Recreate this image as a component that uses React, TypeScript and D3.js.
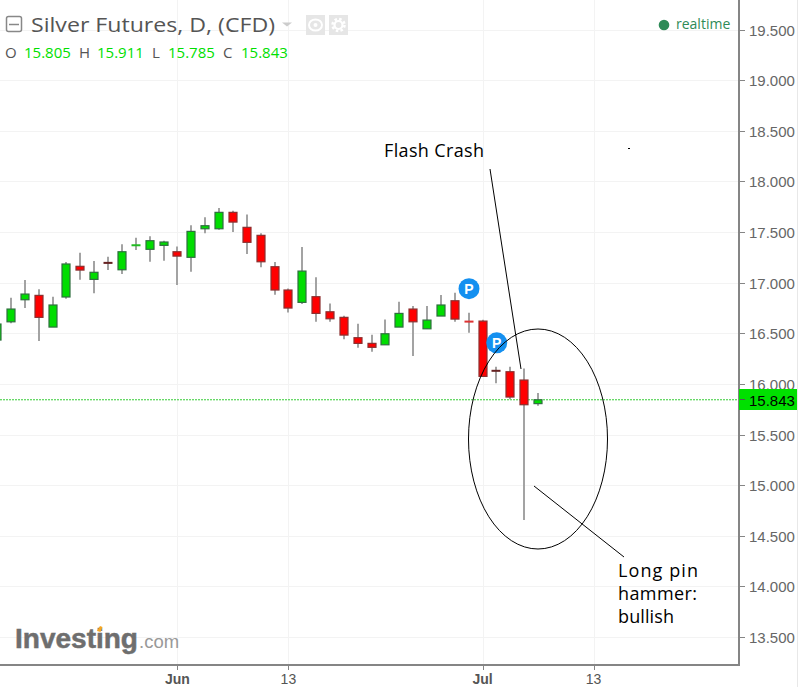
import React, { useEffect } from "react";
import * as d3 from "d3";

const opens = [16.433,16.613,16.831,16.874,16.561,16.858,17.161,17.032,17.200,17.127,17.368,17.329,17.368,17.305,17.250,17.532,17.532,17.694,17.546,17.467,17.157,16.927,16.805,16.861,16.712,16.657,16.456,16.400,16.386,16.561,16.739,16.544,16.670,16.821,16.620,16.620,16.134,16.120,16.038,15.805];
const highs = [16.650,16.851,17.025,16.934,16.861,17.203,17.295,17.213,17.256,17.378,17.443,17.457,17.414,17.358,17.566,17.645,17.737,17.710,17.674,17.487,17.203,16.943,17.351,17.052,16.795,16.673,16.594,16.485,16.637,16.811,16.769,16.769,16.877,16.901,16.702,16.633,16.169,16.169,16.153,15.911];
const lows = [16.383,16.598,16.749,16.423,16.561,16.841,17.028,16.894,17.124,17.085,17.322,17.206,17.216,16.976,17.108,17.487,17.522,17.500,17.282,17.151,16.880,16.706,16.788,16.613,16.613,16.440,16.357,16.317,16.386,16.561,16.275,16.544,16.670,16.613,16.505,16.074,16.005,15.847,14.655,15.785];
const closes = [16.591,16.739,16.887,16.657,16.779,17.184,17.124,17.102,17.180,17.305,17.374,17.414,17.401,17.262,17.506,17.562,17.694,17.598,17.398,17.206,16.927,16.749,17.114,16.696,16.643,16.482,16.400,16.361,16.495,16.696,16.613,16.630,16.779,16.640,16.611,16.074,16.117,15.870,15.794,15.843];
const priceTicks = [19.5,19,18.5,18,17.5,17,16.5,16,15.5,15,14.5,14,13.5];
const timeTicks = [{ i: 12, label: "Jun", bold: true }, { i: 20, label: "13", bold: false }, { i: 34, label: "Jul", bold: true }, { i: 42, label: "13", bold: false }];
const pMarkers = [{ i: 33, p: 16.94 }, { i: 35, p: 16.405 }];
const lastPrice = 15.843;
const legend = [["O","15.805"],["H","15.911"],["L","15.785"],["C","15.843"]];

const x = d3.scaleLinear().domain([-1, 39]).range([-2.87, 551.93]);
const y = d3.scaleLinear().domain([19.5, 13.5]).range([29.5, 637]);
const AX = 739, AY = 665;
const UP = "#00dd00", DOWN = "#ff0000";
const SANS = "'Liberation Sans', Arial, sans-serif";

export default function App() {
  useEffect(() => { document.body.style.margin = "0"; }, []);
  return (
    <svg width={800} height={687} style={{ position: "absolute", left: 0, top: 0, display: "block", background: "#fff" }} fontFamily={SANS}>
      {priceTicks.map(t => <line key={t} x1={0} x2={AX} y1={Math.round(y(t))+0.5} y2={Math.round(y(t))+0.5} stroke="#f3f3f3" />)}
      {timeTicks.map(t => <line key={t.i+t.label} x1={Math.round(x(t.i))+0.5} x2={Math.round(x(t.i))+0.5} y1={0} y2={AY} stroke="#f3f3f3" />)}
      <line x1={0} x2={AX} y1={y(lastPrice)} y2={y(lastPrice)} stroke="#33cc33" strokeDasharray="2 1" />

      {opens.map((o, i) => {
        const c = closes[i], up = c >= o;
        const cx = Math.round(x(i-1));
        const top = y(Math.max(o, c)), bot = y(Math.min(o, c));
        const thin = bot - top < 3;
        return (
          <g key={i}>
            <line x1={cx} x2={cx} y1={y(highs[i])} y2={y(lows[i])} stroke="#a3a3a3" strokeWidth={2} />
            {thin
              ? <rect x={cx-4.5} y={top-0.5} width={9} height={Math.max(2, bot-top)} fill={up ? "#22bb22" : (i===8 || i===36) ? "#662222" : "#dd3333"} />
              : <rect x={cx-4} y={top} width={8} height={bot-top} fill={up ? UP : DOWN} stroke={up ? "#2f6f3f" : "#8c2f2f"} strokeWidth={1.2} />}
          </g>
        );
      })}

      {pMarkers.map(m => (
        <g key={m.i}>
          <circle cx={x(m.i)+0.3} cy={y(m.p)} r={10.5} fill="#1490f0" />
          <text x={x(m.i)+0.3} y={y(m.p)+5} textAnchor="middle" fontSize={14} fontWeight={700} fill="#fff">P</text>
        </g>
      ))}

      {/* annotations */}
      <ellipse cx={538} cy={439} rx={69.5} ry={110} fill="none" stroke="#000" strokeWidth={1} />
      <line x1={490} y1={169} x2={521} y2={369} stroke="#000" strokeWidth={1} />
      <line x1={534} y1={486} x2={624} y2={557} stroke="#000" strokeWidth={1} />
      <rect x={628} y={148} width={2} height={1} fill="#000" />
      <g fontFamily="'Open Sans', sans-serif" fontSize={18} fill="#000">
        <text x={384} y={157} textLength={100}>Flash Crash</text>
        <text x={618} y={577} textLength={80}>Long pin</text>
        <text x={618} y={600} textLength={79}>hammer:</text>
        <text x={618} y={623} textLength={56}>bullish</text>
      </g>

      {/* axes */}
      <rect x={738} y={0} width={2} height={AY+1} fill="#858585" />
      <rect x={0} y={AY-1} width={740} height={2} fill="#858585" />
      <line x1={797.5} x2={797.5} y1={0} y2={687} stroke="#e8e8e8" />
      {priceTicks.map(t => (
        <g key={t}>
          <line x1={740} x2={745} y1={Math.round(y(t))+0.5} y2={Math.round(y(t))+0.5} stroke="#858585" />
          <text x={749} y={y(t)+6} fontSize={15} fill="#666">{t.toFixed(3)}</text>
        </g>
      ))}
      {timeTicks.map(t => (
        <g key={t.i+t.label}>
          <line x1={Math.round(x(t.i))+0.5} x2={Math.round(x(t.i))+0.5} y1={AY} y2={AY+5} stroke="#858585" />
          <text x={x(t.i)} y={684} textAnchor="middle" fontSize={14} fontWeight={t.bold ? 700 : 400} fill="#555">{t.label}</text>
        </g>
      ))}
      <rect x={739} y={389} width={58} height={21} fill="#00e000" />
      <line x1={740} x2={745} y1={399.5} y2={399.5} stroke="#555" />
      <text x={749} y={y(lastPrice)+6} fontSize={15} fill="#000">{lastPrice.toFixed(3)}</text>

      {/* header */}
      <rect x={6.5} y={16.5} width={15} height={15} rx={2} fill="#fff" stroke="#888" strokeWidth={1.5} />
      <line x1={9} x2={19} y1={24.5} y2={24.5} stroke="#888" strokeWidth={1.5} />
      <text x={31} y={32} fontFamily="'Open Sans', sans-serif" fontSize={20} fill="#555" textLength={244} lengthAdjust="spacingAndGlyphs">Silver Futures, D, (CFD)</text>
      <path d="M282 22.5h10l-5 4z" fill="#ccc" />
      <rect x={306} y={15} width={19} height={20} fill="#e6e6e6" />
      <ellipse cx={315.5} cy={25} rx={6.5} ry={5.5} fill="none" stroke="#fff" strokeWidth={2} />
      <circle cx={315.5} cy={25} r={2} fill="#fff" />
      <rect x={329} y={15} width={19} height={20} fill="#e6e6e6" />
      <circle cx={338.5} cy={25} r={6} fill="none" stroke="#fff" strokeWidth={2.5} strokeDasharray="2.5 2.2" />
      <circle cx={338.5} cy={25} r={4} fill="none" stroke="#fff" strokeWidth={2.2} />
      <g fontFamily="'Open Sans', sans-serif" fontSize={15}>
        {legend.map(([k, v], i) => {
          const kx = [5, 79, 152, 223][i], vx = [24, 97, 168, 241][i];
          return (
            <g key={k}>
              <text x={kx} y={58} fill="#555">{k}</text>
              <text x={vx} y={58} fill="#00e000">{v}</text>
            </g>
          );
        })}
      </g>
      <circle cx={664} cy={25} r={5.3} fill="#2e8b57" />
      <text x={676} y={29} fontFamily="'Open Sans', sans-serif" fontSize={14} fill="#2e8b57">realtime</text>

      {/* logo */}
      <text x={15} y={648} fontSize={28} fontWeight={700} fill="#6e6e6e" stroke="#6e6e6e" strokeWidth={0.5} textLength={123} lengthAdjust="spacingAndGlyphs">Investing</text>
      <text x={139} y={648} fontSize={18.5} fill="#999">.com</text>
      <path d="M97 631l3-5 2.5 1-2 5z" fill="#f5a623" />
    </svg>
  );
}
